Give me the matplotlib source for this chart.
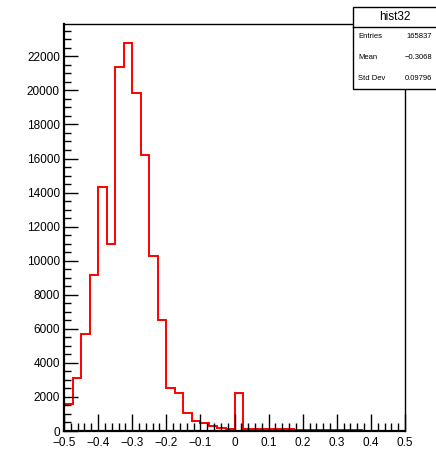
import numpy as np
import matplotlib
matplotlib.use("Agg")
import matplotlib.pyplot as plt
from matplotlib.patches import Rectangle
from matplotlib.ticker import MultipleLocator

plt.rcParams['font.family'] = ['Liberation Sans', 'DejaVu Sans']

# histogram hist32: 40 bins from -0.5 to 0.5
x_min, x_max, n_bins = -0.5, 0.5, 40
counts = [1570, 3100, 5690, 9160, 14350, 10980, 21380, 22760, 19850, 16230,
          10270, 6510, 2550, 2235, 1080, 590, 480, 290, 200, 120,
          2235, 140, 130, 130, 120, 120, 110, 55, 50, 45,
          40, 40, 35, 30, 30, 25, 25, 20, 20, 15]

hist_name = "hist32"
stat_labels = ["Entries", "Mean", "Std Dev"]
stat_values = ["165837", "\u22120.3068", "0.09796"]

W, H = 436, 455
fig = plt.figure(figsize=(W / 100, H / 100), dpi=100)
ax = fig.add_axes([64 / W, 1 - 431 / H, (405 - 64) / W, (431 - 24) / H])

edges = np.linspace(x_min, x_max, n_bins + 1)
ax.stairs(counts, edges, color='red', lw=1.4, baseline=0)

ax.set_xlim(x_min, x_max)
ax.set_ylim(0, max(counts) * 1.05)

ax.xaxis.set_major_locator(MultipleLocator(0.1))
ax.xaxis.set_minor_locator(MultipleLocator(0.02))
ax.yaxis.set_major_locator(MultipleLocator(2000))
ax.yaxis.set_minor_locator(MultipleLocator(500))
ax.xaxis.set_major_formatter(lambda v, p: f"{v:.1f}".replace("-", "\u2212") if abs(v) > 1e-9 else "0")
ax.yaxis.set_major_formatter(lambda v, p: f"{v:.0f}")

ax.tick_params(which='both', direction='in', top=False, right=False, width=1.0, colors='black', labelsize=8.5)
ax.tick_params(axis='x', which='major', length=12, pad=4.5)
ax.tick_params(axis='x', which='minor', length=6)
ax.tick_params(axis='y', which='major', length=10, pad=3)
ax.tick_params(axis='y', which='minor', length=5)
for s in ax.spines.values():
    s.set_linewidth(1.0)
ax.spines['left'].set_linewidth(1.6)
ax.spines['bottom'].set_linewidth(1.6)

# stats box
bx0, bx1, by0, by1, bydiv = 353, 437, 89, 7, 27
fig.patches.append(Rectangle((bx0 / W, 1 - by0 / H), (bx1 - bx0) / W, (by0 - by1) / H,
                             transform=fig.transFigure, facecolor='white',
                             edgecolor='black', lw=1.0, zorder=5))
fig.add_artist(plt.Line2D([bx0 / W, bx1 / W], [1 - bydiv / H, 1 - bydiv / H],
                          transform=fig.transFigure, color='black', lw=1.0, zorder=6))
fig.text((bx0 + bx1) / 2 / W, 1 - 17 / H, hist_name, ha='center', va='center',
         fontsize=8.5, zorder=7)
for i, (lab, val) in enumerate(zip(stat_labels, stat_values)):
    yy = 1 - (37 + i * 20.5) / H
    fig.text(358 / W, yy, lab, ha='left', va='center', fontsize=5.5, zorder=7)
    fig.text(432 / W, yy, val, ha='right', va='center', fontsize=5.5, zorder=7)

fig.savefig("out.png", dpi=100)
